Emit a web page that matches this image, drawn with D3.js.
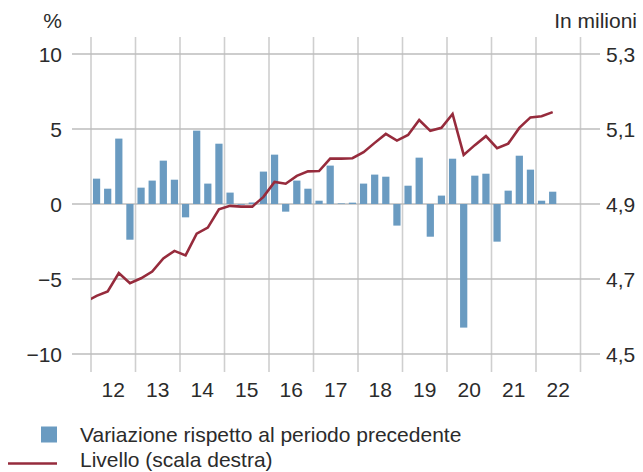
<!DOCTYPE html>
<html>
<head>
<meta charset="utf-8">
<script src="https://cdn.jsdelivr.net/npm/d3@7"></script>
<style>
  body { margin: 0; background: #fff; }
  svg text { font-family: "Liberation Sans", Arial, sans-serif; fill: #2b2b2b; }
</style>
</head>
<body>
<svg id="chart" width="643" height="472"></svg>
<script>
// quarters 2012Q1 .. 2022Q2
var years = ["12", "13", "14", "15", "16", "17", "18", "19", "20", "21", "22"];
var leftTicks = [10, 5, 0, -5, -10];
var rightTicks = [5.3, 5.1, 4.9, 4.7, 4.5];

// change on previous period, %
var variazione = [
    1.69, 1.02, 4.36, -2.38,
    1.09, 1.56, 2.89, 1.62,
    -0.89, 4.89, 1.36, 4.02,
    0.76, -0.05, 0.1, 2.16,
    3.29, -0.51, 1.56, 1.02,
    0.22, 2.56, 0.04, 0.09,
    1.36, 1.96, 1.82, -1.44,
    1.22, 3.09, -2.18, 0.56,
    3.02, -8.24, 1.89, 2.02,
    -2.51, 0.89, 3.22, 2.29,
    0.22, 0.82
];

// level in millions, starting at 2011Q4
var livello = [
    4.639,
    4.655, 4.667, 4.716, 4.689,
    4.702, 4.720, 4.755, 4.775,
    4.763, 4.821, 4.837, 4.886,
    4.895, 4.893, 4.893, 4.919,
    4.959, 4.954, 4.975, 4.987,
    4.988, 5.021, 5.021, 5.022,
    5.038, 5.063, 5.087, 5.069,
    5.084, 5.124, 5.095, 5.103,
    5.140, 5.031, 5.057, 5.081,
    5.049, 5.061, 5.103, 5.131,
    5.134, 5.145
];

var svg = d3.select("#chart");
var left = 91, right = 580.5;

// quarter index scale, 0 = start of 2012
var xq = d3.scaleLinear().domain([0, 44]).range([left, right]);
var step = xq(1) - xq(0);
var yL = d3.scaleLinear().domain([-10, 10]).range([354, 54]);
var yR = d3.scaleLinear().domain([4.5, 5.3]).range([354, 54]);

// vertical grid (year boundaries)
svg.append("g").selectAll("line")
    .data(d3.range(0, 45, 4))
    .enter().append("line")
    .attr("x1", function (d) { return xq(d); })
    .attr("x2", function (d) { return xq(d); })
    .attr("y1", 37).attr("y2", 372)
    .attr("stroke", "#cfcfcf").attr("stroke-width", 1.6);

// horizontal grid
svg.append("g").selectAll("line")
    .data(leftTicks)
    .enter().append("line")
    .attr("x1", 72).attr("x2", 600)
    .attr("y1", function (d) { return yL(d); })
    .attr("y2", function (d) { return yL(d); })
    .attr("stroke", "#bdbdbd").attr("stroke-width", 1.4);

// left axis labels
svg.append("g").selectAll("text")
    .data(leftTicks)
    .enter().append("text")
    .attr("x", 62).attr("y", function (d) { return yL(d); })
    .attr("dy", "0.36em").attr("text-anchor", "end")
    .style("font-size", "21px")
    .text(function (d) { return d < 0 ? "\u2212" + Math.abs(d) : d; });

// right axis labels
svg.append("g").selectAll("text")
    .data(rightTicks)
    .enter().append("text")
    .attr("x", 606).attr("y", function (d) { return yR(d); })
    .attr("dy", "0.36em")
    .style("font-size", "21px")
    .text(function (d) { return d3.format(".1f")(d).replace(".", ","); });

svg.append("text").attr("x", 62).attr("y", 28).attr("text-anchor", "end")
    .style("font-size", "21px").text("%");
svg.append("text").attr("x", 637).attr("y", 28).attr("text-anchor", "end")
    .style("font-size", "21px").text("In milioni");

// year labels
svg.append("g").selectAll("text")
    .data(years)
    .enter().append("text")
    .attr("x", function (d, i) { return xq(i * 4 + 2); })
    .attr("y", 397).attr("text-anchor", "middle")
    .style("font-size", "21px")
    .text(function (d) { return d; });

// bars
var bw = step * 0.65;
svg.append("g").selectAll("rect")
    .data(variazione)
    .enter().append("rect")
    .attr("x", function (d, i) { return xq(i + 0.5) - bw / 2; })
    .attr("width", bw)
    .attr("y", function (d) { return yL(Math.max(0, d)); })
    .attr("height", function (d) { return Math.abs(yL(d) - yL(0)); })
    .attr("fill", "#6a9bc1");

// line (clipped at the first year boundary)
svg.append("clipPath").attr("id", "clip")
    .append("rect").attr("x", left).attr("y", 0).attr("width", 600 - left).attr("height", 472);
var line = d3.line()
    .x(function (d, i) { return xq(i - 0.5); })
    .y(function (d) { return yR(d); });
svg.append("path")
    .datum(livello)
    .attr("clip-path", "url(#clip)")
    .attr("d", line)
    .attr("fill", "none")
    .attr("stroke", "#962b3c")
    .attr("stroke-width", 2.6)
    .attr("stroke-linejoin", "miter");

// legend
svg.append("rect").attr("x", 41).attr("y", 426.5).attr("width", 16).attr("height", 16)
    .attr("fill", "#6a9bc1");
svg.append("text").attr("x", 80).attr("y", 442).style("font-size", "21px")
    .text("Variazione rispetto al periodo precedente");
svg.append("line").attr("x1", 8).attr("x2", 57).attr("y1", 463.5).attr("y2", 463.5)
    .attr("stroke", "#962b3c").attr("stroke-width", 2.6);
svg.append("text").attr("x", 80).attr("y", 467).style("font-size", "21px")
    .text("Livello (scala destra)");
</script>
</body>
</html>
